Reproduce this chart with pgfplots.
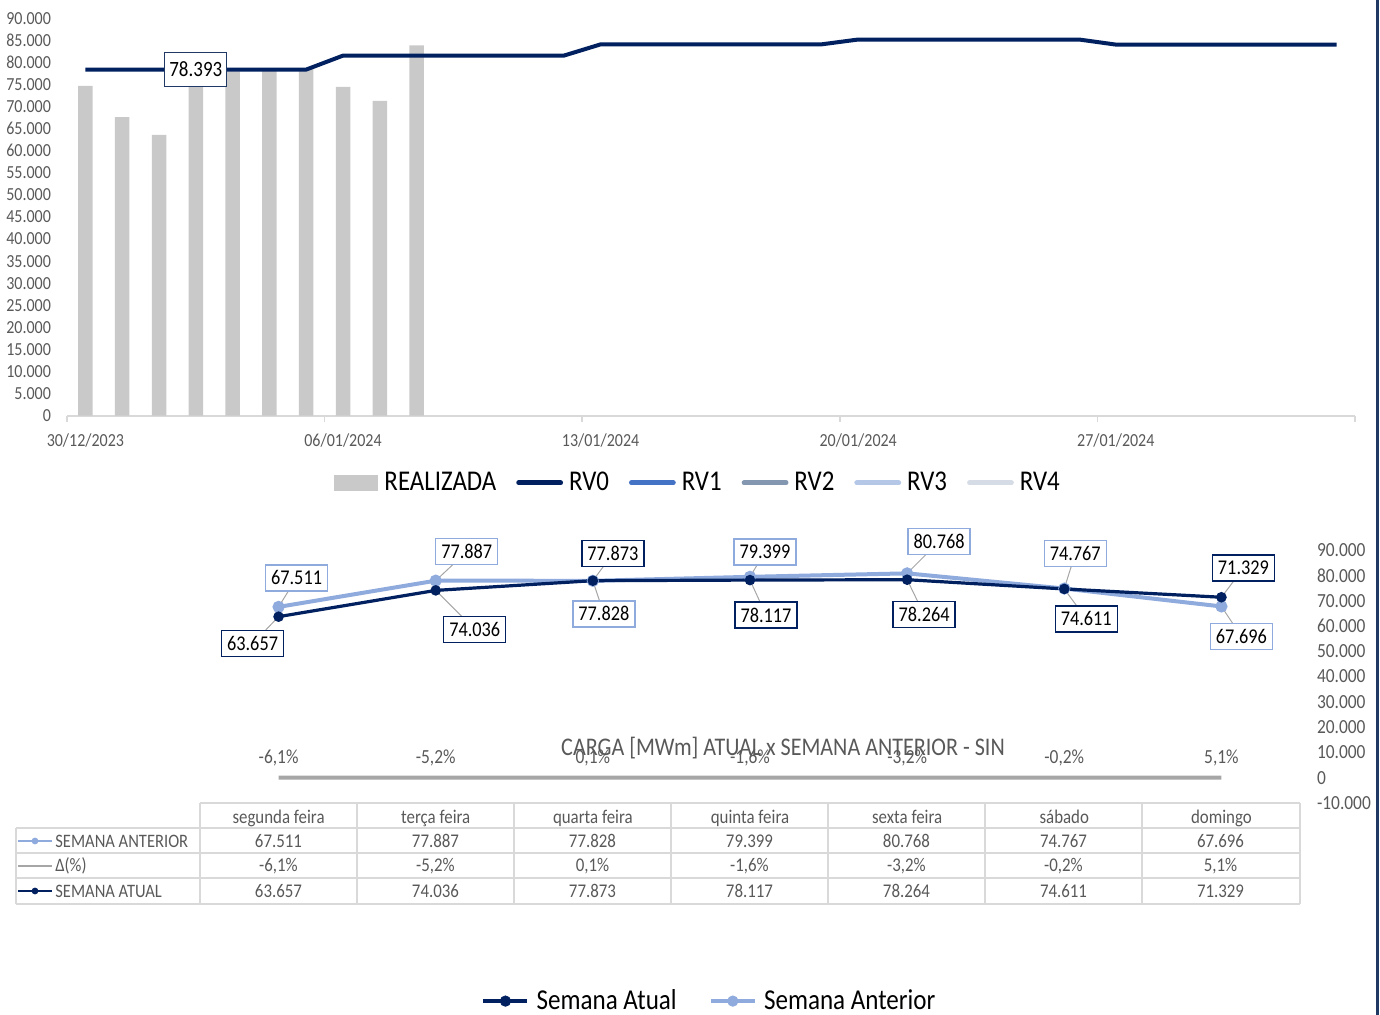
\documentclass[border=0pt]{standalone}
\usepackage{pgfplots}
\pgfplotsset{compat=1.18}
\usepackage{fontspec}
\setmainfont{Carlito}[FakeStretch=0.87]
\definecolor{barcol}{HTML}{C9C9C9}
\definecolor{navy}{HTML}{002060}
\definecolor{rvone}{HTML}{4472C4}
\definecolor{rvtwo}{HTML}{8497B0}
\definecolor{rvthree}{HTML}{B4C7E7}
\definecolor{rvfour}{HTML}{D6DCE5}
\definecolor{antcol}{HTML}{8FAADC}
\definecolor{deltacol}{HTML}{A6A6A6}
\definecolor{txtgray}{HTML}{595959}
\definecolor{gridgray}{HTML}{D9D9D9}
\definecolor{framecol}{HTML}{1F3864}
\newcommand{\fs}[1]{\fontsize{#1}{#1}\selectfont}
\newcommand{\leader}[4]{\draw[deltacol, line width=0.5pt] (axis cs:#1,#2) -- ++(#3pt,#4pt);}
\newcommand{\lbox}[6]{\node[draw=#5, fill=white, line width=0.75pt, minimum width=31pt, minimum height=13pt, inner sep=0pt, font=\fs{10.5pt}] at ([xshift=#3pt,yshift=#4pt]axis cs:#1,#2) {#6};}
\begin{document}
\begin{tikzpicture}
\path[use as bounding box] (0,0) rectangle (690pt,-507.5pt);

% ---------------- top chart ----------------
\begin{axis}[
  at={(33.5pt,-207.85pt)}, anchor=south west,
  scale only axis, width=644pt, height=198.7pt,
  xmin=-0.5, xmax=34.5, ymin=0, ymax=90000,
  scaled y ticks=false, scaled x ticks=false,
  axis x line*=bottom, axis y line*=left,
  x axis line style={draw=gridgray, line width=0.8pt},
  y axis line style={draw=none},
  xtick={0,7,14,21,28},
  xticklabels={30/12/2023,06/01/2024,13/01/2024,20/01/2024,27/01/2024},
  major tick length=0pt,
  extra x ticks={-0.5,6.5,13.5,20.5,27.5,34.5},
  extra x tick labels={},
  extra x tick style={major tick length=3pt, tick align=outside, tick style={draw=gridgray, line width=0.8pt}},
  ytick={0,5000,10000,15000,20000,25000,30000,35000,40000,45000,50000,55000,60000,65000,70000,75000,80000,85000,90000},
  yticklabels={0,5.000,10.000,15.000,20.000,25.000,30.000,35.000,40.000,45.000,50.000,55.000,60.000,65.000,70.000,75.000,80.000,85.000,90.000},
  ticklabel style={font=\fs{9.2pt}, text=txtgray},
  yticklabel style={xshift=-4.5pt},
  xticklabel style={yshift=-5.5pt},
  clip=false,
  legend columns=6,
  legend style={at={(0.490,-0.169)}, anchor=center, draw=none, fill=none, font=\fs{14.3pt},
    nodes={inner sep=1pt},
    /tikz/every odd column/.append style={column sep=2pt},
    /tikz/every even column/.append style={column sep=9pt}},
  legend image code/.code={\draw[#1, line width=2.4pt, line cap=round] (1pt,0pt) -- (22pt,0pt);},
]
\addplot[ybar, bar width=7.25pt, fill=barcol, draw=none,
  legend image code/.code={\fill[barcol] (0pt,-4pt) rectangle (22pt,4pt);}]
  coordinates {(0,74700) (1,67600) (2,63600) (3,76000) (4,78000) (5,78100) (6,78500) (7,74500) (8,71300) (9,83900)};
\addlegendentry{REALIZADA}
\addplot[navy, line width=2pt, line join=round] coordinates {
 (0,78393) (1,78393) (2,78393) (3,78393) (4,78393) (5,78393) (6,78393)
 (7,81550) (8,81550) (9,81550) (10,81550) (11,81550) (12,81550) (13,81550)
 (14,84100) (15,84100) (16,84100) (17,84100) (18,84100) (19,84100) (20,84100)
 (21,85200) (22,85200) (23,85200) (24,85200) (25,85200) (26,85200) (27,85200)
 (28,84050) (29,84050) (30,84050) (31,84050) (32,84050) (33,84050) (34,84050)};
\addlegendentry{RV0}
\addlegendimage{rvone, line width=2.4pt}
\addlegendentry{RV1}
\addlegendimage{rvtwo, line width=2.4pt}
\addlegendentry{RV2}
\addlegendimage{rvthree, line width=2.4pt}
\addlegendentry{RV3}
\addlegendimage{rvfour, line width=2.4pt}
\addlegendentry{RV4}
\node[draw=framecol, fill=white, line width=0.6pt, inner sep=0pt, minimum width=31pt, minimum height=17pt, font=\fs{10.9pt}] at (axis cs:3,78393) {78.393};
\end{axis}

% ---------------- bottom chart ----------------
\begin{axis}[
  at={(100pt,-401.5pt)}, anchor=south west,
  scale only axis, width=550pt, height=126.5pt,
  xmin=-0.5, xmax=6.5, ymin=-10000, ymax=90000,
  scaled y ticks=false, scaled x ticks=false,
  axis line style={draw=none}, tick style={draw=none},
  ytick={-10000,0,10000,20000,30000,40000,50000,60000,70000,80000,90000},
  yticklabels={-10.000,0,10.000,20.000,30.000,40.000,50.000,60.000,70.000,80.000,90.000},
  yticklabel pos=right,
  yticklabel style={anchor=west, xshift=5pt, font=\fs{10pt}, text=txtgray},
  xtick={0,1,2,3,4,5,6},
  xticklabels={segunda feira,terça feira,quarta feira,quinta feira,sexta feira,sábado,domingo},
  xticklabel style={font=\fs{9.7pt}, text=txtgray},
  clip=false,
  legend columns=2,
  legend style={at={(0.463,-0.783)}, anchor=center, draw=none, fill=none, font=\fs{14.4pt},
    nodes={inner sep=1pt},
    /tikz/every odd column/.append style={column sep=2.5pt},
    /tikz/every even column/.append style={column sep=15pt}},
]
\addlegendimage{legend image code/.code={\draw[navy, line width=2.2pt] (0pt,0pt)--(22pt,0pt); \fill[navy] (11pt,0pt) circle (2.6pt);}}
\addlegendentry{Semana Atual}
\addlegendimage{legend image code/.code={\draw[antcol, line width=2.2pt] (0pt,0pt)--(22pt,0pt); \fill[antcol] (11pt,0pt) circle (2.6pt);}}
\addlegendentry{Semana Anterior}
% leader lines
\leader{0}{67511}{9}{14.5}
\leader{1}{77887}{15.5}{14.5}
\leader{2}{77828}{5.5}{-16.5}
\leader{3}{79399}{7.5}{12.5}
\leader{4}{80768}{16}{16}
\leader{5}{74767}{5.5}{17.5}
\leader{6}{67696}{10}{-15}
\leader{0}{63657}{-13}{-13.5}
\leader{1}{74036}{19.5}{-19.5}
\leader{2}{77873}{10}{13.5}
\leader{3}{78117}{8}{-17.5}
\leader{4}{78264}{8.5}{-17.5}
\leader{5}{74611}{11}{-15}
\leader{6}{71329}{11}{14.5}
% delta line
\addplot[deltacol, line width=2pt, forget plot] coordinates {(0,-0.061) (1,-0.052) (2,0.001) (3,-0.016) (4,-0.032) (5,-0.002) (6,0.051)};
% series
\addplot[antcol, line width=2pt, mark=*, mark size=2pt, mark options={fill=antcol, draw=antcol}, forget plot]
  coordinates {(0,67511) (1,77887) (2,77828) (3,79399) (4,80768) (5,74767) (6,67696)};
\addplot[navy, line width=1.6pt, mark=*, mark size=1.8pt, mark options={fill=navy, draw=navy}, forget plot]
  coordinates {(0,63657) (1,74036) (2,77873) (3,78117) (4,78264) (5,74611) (6,71329)};
% delta labels
\node[font=\fs{10pt}, text=txtgray] at ([yshift=10pt]axis cs:0,0) {-6,1\%};
\node[font=\fs{10pt}, text=txtgray] at ([yshift=10pt]axis cs:1,0) {-5,2\%};
\node[font=\fs{10pt}, text=txtgray] at ([yshift=10pt]axis cs:2,0) {0,1\%};
\node[font=\fs{10pt}, text=txtgray] at ([yshift=10pt]axis cs:3,0) {-1,6\%};
\node[font=\fs{10pt}, text=txtgray] at ([yshift=10pt]axis cs:4,0) {-3,2\%};
\node[font=\fs{10pt}, text=txtgray] at ([yshift=10pt]axis cs:5,0) {-0,2\%};
\node[font=\fs{10pt}, text=txtgray] at ([yshift=10pt]axis cs:6,0) {5,1\%};
% label boxes
\lbox{0}{67511}{9}{14.5}{antcol}{67.511}
\lbox{1}{77887}{15.5}{14.5}{antcol}{77.887}
\lbox{2}{77828}{5.5}{-16.5}{antcol}{77.828}
\lbox{3}{79399}{7.5}{12.5}{antcol}{79.399}
\lbox{4}{80768}{16}{16}{antcol}{80.768}
\lbox{5}{74767}{5.5}{17.5}{antcol}{74.767}
\lbox{6}{67696}{10}{-15}{antcol}{67.696}
\lbox{0}{63657}{-13}{-13.5}{navy}{63.657}
\lbox{1}{74036}{19.5}{-19.5}{navy}{74.036}
\lbox{2}{77873}{10}{13.5}{navy}{77.873}
\lbox{3}{78117}{8}{-17.5}{navy}{78.117}
\lbox{4}{78264}{8.5}{-17.5}{navy}{78.264}
\lbox{5}{74611}{11}{-15}{navy}{74.611}
\lbox{6}{71329}{11}{14.5}{navy}{71.329}
\end{axis}

% ---------------- title, table, frame ----------------
\begin{scope}[x=0.5pt,y=-0.5pt]
\node[font=\fs{12.7pt}, text=txtgray] at (783,748) {CARGA [MWm] ATUAL x SEMANA ANTERIOR - SIN};
\draw[gridgray, line width=0.75pt] (200,803) -- (1300,803);
\foreach \yy in {828,853,878,904} \draw[gridgray, line width=0.75pt] (16,\yy) -- (1300,\yy);
\draw[gridgray, line width=0.75pt] (16,828) -- (16,904);
\foreach \xx in {200,357,514,671,828,985,1142,1300} \draw[gridgray, line width=0.75pt] (\xx,803) -- (\xx,904);
% row icons
\draw[antcol, line width=1.2pt] (18,841) -- (52,841); \fill[antcol] (35,841) circle (1.7pt);
\draw[deltacol, line width=1.2pt] (18,866) -- (52,866);
\draw[navy, line width=1.2pt] (18,891) -- (52,891); \fill[navy] (35,891) circle (1.7pt);
\node[anchor=west, inner sep=0pt, font=\fs{9.5pt}, text=txtgray] at (55,841) {SEMANA ANTERIOR};
\node[anchor=west, inner sep=0pt, font=\fs{9.5pt}, text=txtgray] at (55,866) {Δ(\%)};
\node[anchor=west, inner sep=0pt, font=\fs{9.5pt}, text=txtgray] at (55,891) {SEMANA ATUAL};
% row values
\begin{scope}[every node/.style={font=\fs{9.7pt}, text=txtgray}]
\node at (278.5,841) {67.511}; \node at (435.5,841) {77.887}; \node at (592.5,841) {77.828};
\node at (749.5,841) {79.399}; \node at (906.5,841) {80.768}; \node at (1063.5,841) {74.767};
\node at (1220.5,841) {67.696};
\node at (278.5,866) {-6,1\%}; \node at (435.5,866) {-5,2\%}; \node at (592.5,866) {0,1\%};
\node at (749.5,866) {-1,6\%}; \node at (906.5,866) {-3,2\%}; \node at (1063.5,866) {-0,2\%};
\node at (1220.5,866) {5,1\%};
\node at (278.5,891) {63.657}; \node at (435.5,891) {74.036}; \node at (592.5,891) {77.873};
\node at (749.5,891) {78.117}; \node at (906.5,891) {78.264}; \node at (1063.5,891) {74.611};
\node at (1220.5,891) {71.329};
\end{scope}
\draw[framecol, line width=1.5pt] (1377,0) -- (1377,1015);
\end{scope}
\end{tikzpicture}
\end{document}
